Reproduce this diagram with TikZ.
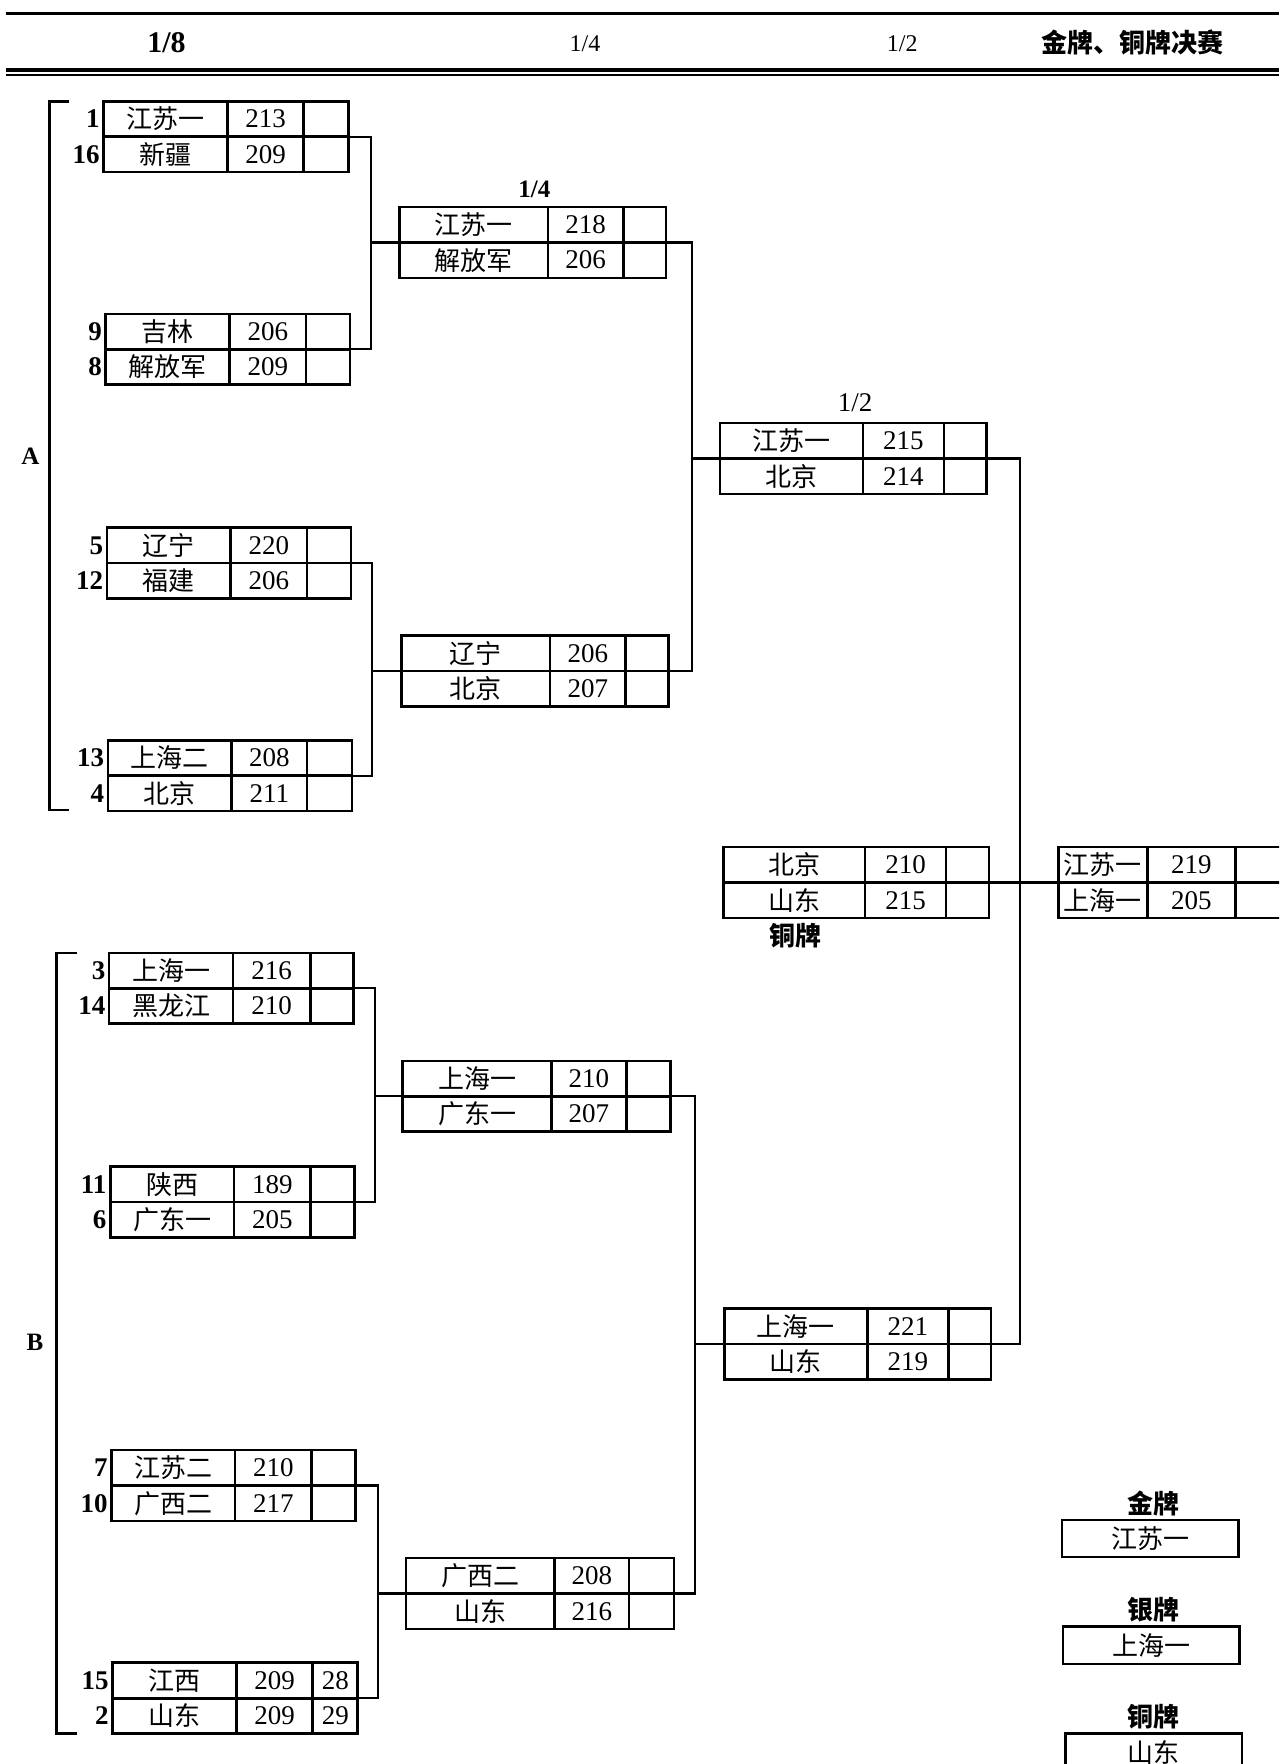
\documentclass[tikz,border=0pt]{standalone}
\usepackage{fontspec}
\setmainfont{Liberation Serif}
\newfontfamily\cjk{Noto Sans CJK SC}
\usetikzlibrary{fit}
\tikzset{
  box/.style={draw, line width=1.3pt, inner sep=0pt},
  cell/.style={line width=1.3pt},
  conn/.style={line width=1.1pt},
  tn/.style={font=\cjk\fontsize{13}{13}\selectfont, inner sep=0pt},
  nn/.style={font=\fontsize{13.5}{13.5}\selectfont, inner sep=0pt},
  seed/.style={font=\fontsize{13.5}{13.5}\selectfont\bfseries, inner sep=0pt, anchor=east},
  lab/.style={font=\fontsize{12.5}{12.5}\selectfont\bfseries, inner sep=0pt},
  medal/.style={font=\cjk\bfseries\fontsize{13}{13}\selectfont, inner sep=0pt}
}
% geometry of a two-row match box
\newcommand\mbg[6]{%
  \def\cn{#1}\def\cxl{#2}\def\cyt{#3}\def\cda{#4}\def\cdb{#5}\def\cxr{#6}%
  \node[box, fit={(#2,#3) (#6,#3+63)}] (#1) {};
  \draw[cell] (#4,#3) -- (#4,#3+63) (#5,#3) -- (#5,#3+63);
  \draw[cell] (#1.west) -- (#1.east);
}
% texts of the box
\newcommand\mbt[4]{%
  \node[tn] (\cn-ta) at ({(\cxl+\cda)/2},{\cyt+15.75}) {#1};
  \node[nn] (\cn-sa) at ({(\cda+\cdb)/2},{\cyt+15.75}) {#2};
  \node[tn] (\cn-tb) at ({(\cxl+\cda)/2},{\cyt+47.25}) {#3};
  \node[nn] (\cn-sb) at ({(\cda+\cdb)/2},{\cyt+47.25}) {#4};
}
% seeds
\newcommand\mbs[2]{%
  \node[seed] (\cn-qa) at ({\cxl-3},{\cyt+15.75}) {#1};
  \node[seed] (\cn-qb) at ({\cxl-3},{\cyt+47.25}) {#2};
}
\begin{document}
\begin{tikzpicture}[x=0.5625pt, y=-0.5625pt]
\useasboundingbox (0,0) rectangle (1137,1568);
\clip (0,0) rectangle (1137,1568);
\fill[white] (0,0) rectangle (1137,1568);

% header
\draw[line width=1.6pt] (5,12) -- (1137,12);
\draw[line width=1.8pt] (5,62) -- (1137,62);
\draw[line width=0.9pt] (5,66.5) -- (1137,66.5);
\node[font=\fontsize{15}{15}\selectfont\bfseries, inner sep=0pt] (h8) at (148,38) {1/8};
\node[font=\fontsize{12}{12}\selectfont, inner sep=0pt] (h4) at (520,39) {1/4};
\node[font=\fontsize{12}{12}\selectfont, inner sep=0pt] (h2) at (802,39) {1/2};
\node[font=\cjk\bfseries\fontsize{13}{13}\selectfont, inner sep=0pt] (hf) at (1007,38) {金牌、铜牌决赛};

% group brackets
\draw[line width=1.3pt] (61,90) -- (44,90) -- (44,720) -- (61,720);
\node[lab] (ga) at (27,406) {A};
\draw[line width=1.3pt] (68,847) -- (50,847) -- (50,1541) -- (68,1541);
\node[lab] (gb) at (31,1193) {B};

% round of 16
\mbg{b1}{92}{90}{202}{270}{310}\mbt{江苏一}{213}{新疆}{209}\mbs{1}{16}
\mbg{b2}{94}{279}{204}{272}{311}\mbt{吉林}{206}{解放军}{209}\mbs{9}{8}
\mbg{b3}{95}{469}{205}{273}{312}\mbt{辽宁}{220}{福建}{206}\mbs{5}{12}
\mbg{b4}{96}{658}{206}{273}{313}\mbt{上海二}{208}{北京}{211}\mbs{13}{4}
\mbg{b5}{97}{847}{207}{276}{314}\mbt{上海一}{216}{黑龙江}{210}\mbs{3}{14}
\mbg{b6}{98}{1037}{208}{276}{315}\mbt{陕西}{189}{广东一}{205}\mbs{11}{6}
\mbg{b7}{99}{1289}{209}{277}{316}\mbt{江苏二}{210}{广西二}{217}\mbs{7}{10}
\mbg{b8}{100}{1478}{210}{278}{318}\mbt{江西}{209}{山东}{209}\mbs{15}{2}
\node[nn] (b8-xa) at (298,{1478+15.75}) {28};
\node[nn] (b8-xb) at (298,{1478+47.25}) {29};

% quarter finals
\mbg{q1}{355}{184}{487}{554}{592}\mbt{江苏一}{218}{解放军}{206}
\node[lab] (l4) at (475,168) {1/4};
\mbg{q2}{357}{565}{489}{556}{594}\mbt{辽宁}{206}{北京}{207}
\mbg{q3}{358}{943}{490}{557}{596}\mbt{上海一}{210}{广东一}{207}
\mbg{q4}{361}{1385}{493}{559}{599}\mbt{广西二}{208}{山东}{216}

% semi finals
\mbg{s1}{640}{376}{767}{839}{877}\mbt{江苏一}{215}{北京}{214}
\node[nn] (l2) at (760,358) {1/2};
\mbg{s2}{644}{1163}{771}{843}{881}\mbt{上海一}{221}{山东}{219}

% bronze and gold matches
\mbg{br}{643}{753}{769}{841}{879}\mbt{北京}{210}{山东}{215}
\node[medal] (brl) at (707,832) {铜牌};
\mbg{fi}{941}{753}{1020}{1098}{1190}
\node[tn] (fi-ta) at (980,{753+15.75}) {江苏一};
\node[nn] (fi-sa) at (1059,{753+15.75}) {219};
\node[tn] (fi-tb) at (980,{753+47.25}) {上海一};
\node[nn] (fi-sb) at (1059,{753+47.25}) {205};

% connectors
\coordinate (j1) at (330,0);
\coordinate (j2) at (331,0);
\coordinate (j3) at (333,0);
\coordinate (j4) at (336,0);
\coordinate (k1) at (615,0);
\coordinate (k2) at (618,0);
\coordinate (m1) at (907,0);
\draw[conn] (b1.east) -| (j1 |- b2.east) -- (b2.east);
\draw[conn] (j1 |- q1.west) -- (q1.west);
\draw[conn] (b3.east) -| (j2 |- b4.east) -- (b4.east);
\draw[conn] (j2 |- q2.west) -- (q2.west);
\draw[conn] (b5.east) -| (j3 |- b6.east) -- (b6.east);
\draw[conn] (j3 |- q3.west) -- (q3.west);
\draw[conn] (b7.east) -| (j4 |- b8.east) -- (b8.east);
\draw[conn] (j4 |- q4.west) -- (q4.west);
\draw[conn] (q1.east) -| (k1 |- q2.east) -- (q2.east);
\draw[conn] (k1 |- s1.west) -- (s1.west);
\draw[conn] (q3.east) -| (k2 |- q4.east) -- (q4.east);
\draw[conn] (k2 |- s2.west) -- (s2.west);
\draw[conn] (s1.east) -| (m1 |- s2.east) -- (s2.east);
\draw[conn] (br.east) -- (fi.west);

% medal table
\node[medal] (gl) at (1025,1336) {金牌};
\node[box, minimum width=157*0.5625pt, minimum height=33*0.5625pt] (gbx) at (1022.5,1367.5) {};
\node[tn] (gt) at (gbx) {江苏一};
\node[medal] (sl) at (1025,1431) {银牌};
\node[box, minimum width=157*0.5625pt, minimum height=33*0.5625pt] (sbx) at (1023.5,1462.5) {};
\node[tn] (st) at (sbx) {上海一};
\node[medal] (bl) at (1025,1526) {铜牌};
\node[box, minimum width=157*0.5625pt, minimum height=33*0.5625pt] (bbx) at (1025.5,1557.5) {};
\node[tn] (bt) at (bbx) {山东};
\end{tikzpicture}
\end{document}
